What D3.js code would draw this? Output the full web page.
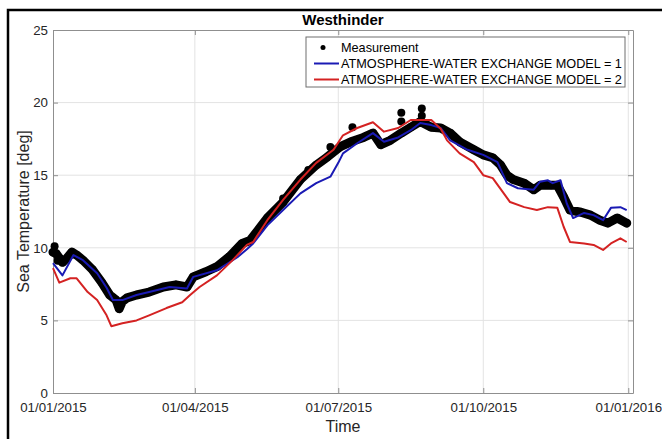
<!DOCTYPE html>
<html>
<head>
<meta charset="utf-8">
<script src="https://cdn.jsdelivr.net/npm/d3@7"></script>
<style>
  body { margin: 0; background: #fff; }
  svg { display: block; font-family: "Liberation Sans", Arial, sans-serif; }
</style>
</head>
<body>
<script>
// Westhinder sea temperature, 2015
const measurement = [
  ["2015-01-01", 9.7], ["2015-01-03", 9.6], ["2015-01-07", 9.0], ["2015-01-10", 9.3],
  ["2015-01-13", 9.7], ["2015-01-16", 9.5], ["2015-01-20", 9.15], ["2015-01-26", 8.5],
  ["2015-02-01", 7.6], ["2015-02-06", 6.75], ["2015-02-10", 6.4], ["2015-02-12", 5.8],
  ["2015-02-14", 6.3], ["2015-02-17", 6.55], ["2015-02-23", 6.75], ["2015-03-03", 6.95],
  ["2015-03-12", 7.3], ["2015-03-20", 7.45], ["2015-03-27", 7.3], ["2015-03-31", 8.0],
  ["2015-04-08", 8.35], ["2015-04-15", 8.7], ["2015-04-23", 9.4], ["2015-05-01", 10.3],
  ["2015-05-06", 10.5], ["2015-05-17", 12.05], ["2015-05-27", 13.15], ["2015-06-07", 14.7],
  ["2015-06-17", 15.7], ["2015-06-24", 16.25], ["2015-07-02", 16.95], ["2015-07-09", 17.3],
  ["2015-07-17", 17.6], ["2015-07-23", 17.9], ["2015-07-28", 17.1], ["2015-08-03", 17.4],
  ["2015-08-10", 17.9], ["2015-08-16", 18.3], ["2015-08-22", 18.7], ["2015-08-29", 18.3],
  ["2015-09-04", 18.25], ["2015-09-10", 17.9], ["2015-09-16", 17.3], ["2015-09-25", 16.75],
  ["2015-10-01", 16.4], ["2015-10-07", 16.2], ["2015-10-12", 15.7], ["2015-10-16", 15.0],
  ["2015-10-20", 14.7], ["2015-10-27", 14.45], ["2015-11-02", 14.0], ["2015-11-06", 14.3],
  ["2015-11-13", 14.3], ["2015-11-17", 14.3], ["2015-11-21", 13.5], ["2015-11-25", 12.6],
  ["2015-12-02", 12.45], ["2015-12-08", 12.25], ["2015-12-14", 11.9], ["2015-12-19", 11.7],
  ["2015-12-25", 12.05], ["2015-12-31", 11.7]
];

// isolated measurement points and short spikes sticking out of the band
const outliers = [
  ["2015-01-02", 10.1], ["2015-01-04", 9.1], ["2015-05-27", 13.4], ["2015-06-12", 15.35],
  ["2015-06-26", 16.95], ["2015-07-10", 18.3], ["2015-08-10", 19.3], ["2015-08-10", 18.7],
  ["2015-08-23", 19.6], ["2015-08-23", 19.1]
];

const model1 = [
  ["2015-01-01", 8.95], ["2015-01-07", 8.1], ["2015-01-14", 9.5], ["2015-01-20", 9.15],
  ["2015-01-29", 8.25], ["2015-02-04", 7.25], ["2015-02-08", 6.4], ["2015-02-14", 6.4],
  ["2015-02-23", 6.75], ["2015-03-03", 6.95], ["2015-03-16", 7.3], ["2015-03-27", 7.2],
  ["2015-03-31", 8.0], ["2015-04-15", 8.45], ["2015-04-28", 9.35], ["2015-05-04", 9.9],
  ["2015-05-08", 10.3], ["2015-05-17", 11.55], ["2015-05-27", 12.6], ["2015-06-07", 13.75],
  ["2015-06-17", 14.45], ["2015-06-26", 14.9], ["2015-07-01", 15.85], ["2015-07-04", 16.5],
  ["2015-07-13", 17.2], ["2015-07-23", 17.9], ["2015-07-30", 17.3], ["2015-08-08", 17.6],
  ["2015-08-16", 18.1], ["2015-08-22", 18.6], ["2015-08-29", 18.45], ["2015-09-04", 18.25],
  ["2015-09-10", 17.4], ["2015-09-21", 16.75], ["2015-10-01", 16.4], ["2015-10-10", 15.9],
  ["2015-10-16", 14.45], ["2015-10-23", 14.1], ["2015-11-02", 14.0], ["2015-11-06", 14.55],
  ["2015-11-11", 14.65], ["2015-11-14", 14.45], ["2015-11-19", 14.65], ["2015-11-23", 13.05],
  ["2015-11-27", 12.05], ["2015-12-04", 12.4], ["2015-12-10", 12.25], ["2015-12-16", 11.9],
  ["2015-12-21", 12.75], ["2015-12-27", 12.8], ["2015-12-31", 12.6]
];

const model2 = [
  ["2015-01-01", 8.6], ["2015-01-05", 7.6], ["2015-01-12", 7.9], ["2015-01-16", 7.9],
  ["2015-01-23", 6.95], ["2015-01-29", 6.4], ["2015-02-04", 5.35], ["2015-02-07", 4.6],
  ["2015-02-14", 4.8], ["2015-02-23", 5.0], ["2015-03-03", 5.35], ["2015-03-14", 5.85],
  ["2015-03-24", 6.25], ["2015-03-29", 6.75], ["2015-04-04", 7.3], ["2015-04-15", 8.1],
  ["2015-04-25", 9.15], ["2015-05-04", 10.2], ["2015-05-08", 10.4], ["2015-05-17", 11.9],
  ["2015-05-27", 13.3], ["2015-06-07", 14.7], ["2015-06-17", 15.85], ["2015-06-28", 16.75],
  ["2015-07-04", 17.75], ["2015-07-13", 18.25], ["2015-07-23", 18.65], ["2015-07-30", 18.0],
  ["2015-08-08", 18.25], ["2015-08-16", 18.8], ["2015-08-22", 18.8], ["2015-08-29", 18.8],
  ["2015-09-04", 18.2], ["2015-09-08", 17.4], ["2015-09-16", 16.5], ["2015-09-25", 15.9],
  ["2015-10-01", 15.0], ["2015-10-07", 14.8], ["2015-10-14", 13.75], ["2015-10-18", 13.15],
  ["2015-10-27", 12.8], ["2015-11-04", 12.6], ["2015-11-11", 12.8], ["2015-11-17", 12.75],
  ["2015-11-21", 11.45], ["2015-11-25", 10.4], ["2015-12-04", 10.3], ["2015-12-10", 10.2],
  ["2015-12-16", 9.85], ["2015-12-21", 10.3], ["2015-12-27", 10.65], ["2015-12-31", 10.4]
];

const xTicks = ["2015-01-01", "2015-04-01", "2015-07-01", "2015-10-01", "2016-01-01"];
const yTicks = [0, 5, 10, 15, 20, 25];
const legendLabels = [
  "Measurement",
  "ATMOSPHERE-WATER EXCHANGE MODEL = 1",
  "ATMOSPHERE-WATER EXCHANGE MODEL = 2"
];

const W = 662, H = 439;
const plot = { left: 53, right: 633, top: 30, bottom: 393 };

const parseDate = d3.timeParse("%Y-%m-%d");
const toPts = arr => arr.map(d => ({ date: parseDate(d[0]), value: d[1] }));

const svg = d3.select("body").append("svg")
  .attr("width", W)
  .attr("height", H);

// outer figure frame (cut off at right / bottom)
svg.append("rect")
  .attr("x", 8).attr("y", 10)
  .attr("width", W + 20).attr("height", H + 20)
  .attr("fill", "#fff")
  .attr("stroke", "#000")
  .attr("stroke-width", 2.5);

const x = d3.scaleTime()
  .domain([parseDate("2015-01-01"), parseDate("2016-01-04")])
  .range([plot.left, plot.right]);

const y = d3.scaleLinear()
  .domain([0, 25])
  .range([plot.bottom, plot.top]);

// grid
svg.append("g")
  .selectAll("line")
  .data(yTicks.slice(1, -1))
  .join("line")
    .attr("x1", plot.left).attr("x2", plot.right)
    .attr("y1", d => y(d)).attr("y2", d => y(d))
    .attr("stroke", "#e3e3e3");

svg.append("g")
  .selectAll("line")
  .data(xTicks.slice(1).map(parseDate))
  .join("line")
    .attr("x1", d => x(d)).attr("x2", d => x(d))
    .attr("y1", plot.top).attr("y2", plot.bottom)
    .attr("stroke", "#e3e3e3");

// axes
const axisColor = "#8f8f8f";
const fmt = d3.timeFormat("%d/%m/%Y");

svg.append("g")
  .attr("transform", `translate(0,${plot.bottom})`)
  .call(d3.axisBottom(x).tickValues(xTicks.map(parseDate)).tickFormat(fmt)
    .tickSizeInner(-5).tickSizeOuter(0).tickPadding(10));

svg.append("g")
  .attr("transform", `translate(0,${plot.top})`)
  .call(d3.axisTop(x).tickValues(xTicks.map(parseDate)).tickFormat("")
    .tickSizeInner(-5).tickSizeOuter(0));

svg.append("g")
  .attr("transform", `translate(${plot.left},0)`)
  .call(d3.axisLeft(y).tickValues(yTicks)
    .tickSizeInner(-5).tickSizeOuter(0).tickPadding(5));

svg.append("g")
  .attr("transform", `translate(${plot.right},0)`)
  .call(d3.axisRight(y).tickValues(yTicks).tickFormat("")
    .tickSizeInner(-5).tickSizeOuter(0));

svg.selectAll(".domain, .tick line").attr("stroke", axisColor);
svg.selectAll(".tick text")
  .attr("font-size", 13.3)
  .attr("font-family", "Liberation Sans, Arial, sans-serif")
  .attr("fill", "#262626");

// data
const line = d3.line()
  .x(d => x(d.date))
  .y(d => y(d.value));

const meas = toPts(measurement);

svg.append("path")
  .datum(meas)
  .attr("fill", "none")
  .attr("stroke", "#000")
  .attr("stroke-width", 9)
  .attr("stroke-linejoin", "round")
  .attr("stroke-linecap", "round")
  .attr("d", line);

svg.append("g")
  .selectAll("circle")
  .data(meas.concat(toPts(outliers)))
  .join("circle")
    .attr("cx", d => x(d.date))
    .attr("cy", d => y(d.value))
    .attr("r", 4)
    .attr("fill", "#000");

svg.append("path")
  .datum(toPts(model1))
  .attr("fill", "none")
  .attr("stroke", "#1a1ab4")
  .attr("stroke-width", 2)
  .attr("stroke-linejoin", "round")
  .attr("d", line);

svg.append("path")
  .datum(toPts(model2))
  .attr("fill", "none")
  .attr("stroke", "#d42222")
  .attr("stroke-width", 2)
  .attr("stroke-linejoin", "round")
  .attr("d", line);

// title and labels
svg.append("text")
  .attr("x", (plot.left + plot.right) / 2)
  .attr("y", 25)
  .attr("text-anchor", "middle")
  .attr("font-size", 15)
  .attr("font-weight", "bold")
  .attr("fill", "#000")
  .text("Westhinder");

svg.append("text")
  .attr("x", (plot.left + plot.right) / 2)
  .attr("y", 432)
  .attr("text-anchor", "middle")
  .attr("font-size", 16)
  .attr("fill", "#262626")
  .text("Time");

svg.append("text")
  .attr("transform", `translate(29,${(plot.top + plot.bottom) / 2}) rotate(-90)`)
  .attr("text-anchor", "middle")
  .attr("font-size", 16)
  .attr("fill", "#262626")
  .text("Sea Temperature [deg]");

// legend
const lg = svg.append("g");
lg.append("rect")
  .attr("x", 306).attr("y", 37)
  .attr("width", 319).attr("height", 50)
  .attr("fill", "#fff")
  .attr("stroke", "#6e6e6e");

const legendColors = ["#000", "#1a1ab4", "#d42222"];
legendLabels.forEach((lab, i) => {
  const cy = 47.5 + i * 16;
  if (i === 0) {
    lg.append("circle").attr("cx", 323).attr("cy", cy).attr("r", 2.5).attr("fill", "#000");
  } else {
    lg.append("line")
      .attr("x1", 314).attr("x2", 339)
      .attr("y1", cy).attr("y2", cy)
      .attr("stroke", legendColors[i])
      .attr("stroke-width", 2);
  }
  lg.append("text")
    .attr("x", 341)
    .attr("y", cy + 4.5)
    .attr("font-size", 12.7)
    .attr("fill", "#000")
    .text(lab);
});
</script>
</body>
</html>
